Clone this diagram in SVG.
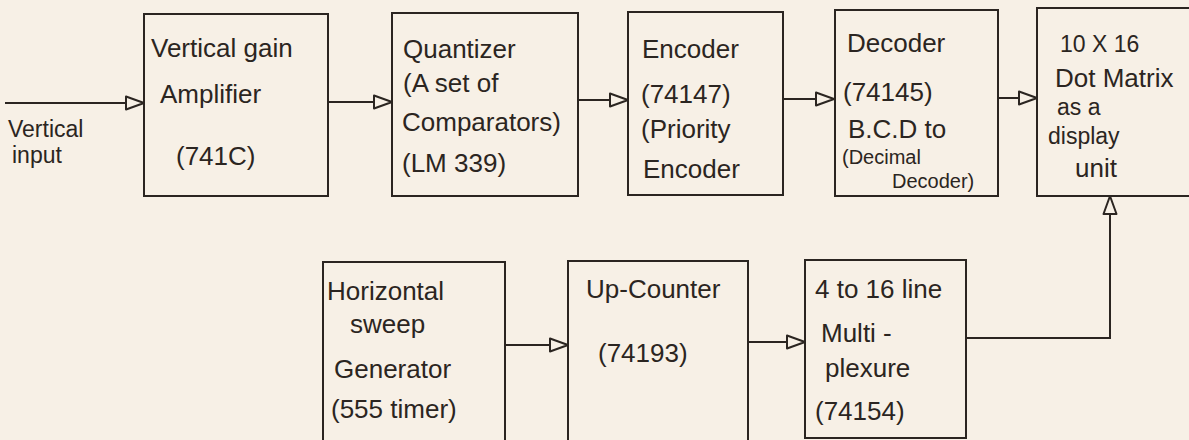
<svg xmlns="http://www.w3.org/2000/svg" width="1189" height="440" viewBox="0 0 1189 440">
<defs>
<marker id="tri" viewBox="0 0 20 16" refX="19" refY="8" markerWidth="20" markerHeight="16" markerUnits="userSpaceOnUse" orient="auto">
<path d="M1,1.5 L19,8 L1,14.5 Z" fill="#f7f0e6" stroke="#2b2521" stroke-width="2" stroke-linejoin="round"/>
</marker>
<style>
.box{fill:none;stroke:#2b2521;stroke-width:2}
.wire{fill:none;stroke:#2b2521;stroke-width:2;marker-end:url(#tri)}
text{font-family:"Liberation Sans",Arial,sans-serif;font-size:26px;fill:#2b2521}
.sm{font-size:20px}
.md{font-size:23px}
</style>
</defs>
<rect x="0" y="0" width="1189" height="440" fill="#f7f0e6"/>
<g id="connectors">
<line class="wire" x1="5" y1="103" x2="144" y2="103"/>
<line class="wire" x1="328" y1="102" x2="392" y2="102"/>
<line class="wire" x1="578" y1="100" x2="628" y2="100"/>
<line class="wire" x1="783" y1="99" x2="834" y2="99"/>
<line class="wire" x1="998" y1="98" x2="1037" y2="98"/>
<line class="wire" x1="505" y1="345" x2="568" y2="345"/>
<line class="wire" x1="748" y1="342" x2="805" y2="342"/>
<polyline class="wire" points="966,338 1110,338 1110,196"/>
</g>
<g id="input-label">
<text class="md" x="8" y="137">Vertical</text>
<text class="md" x="12" y="163">input</text>
</g>
<g id="amplifier">
<rect class="box" x="144" y="14" width="184" height="182"/>
<text x="151" y="57">Vertical gain</text>
<text x="160" y="103">Amplifier</text>
<text x="176" y="165">(741C)</text>
</g>
<g id="quantizer">
<rect class="box" x="392" y="13" width="186" height="183"/>
<text x="403" y="58">Quantizer</text>
<text x="403" y="92">(A set of</text>
<text x="402" y="131">Comparators)</text>
<text x="402" y="172">(LM 339)</text>
</g>
<g id="encoder">
<rect class="box" x="628" y="12" width="155" height="183"/>
<text x="642" y="58">Encoder</text>
<text x="641" y="103">(74147)</text>
<text x="641" y="138">(Priority</text>
<text x="643" y="178">Encoder</text>
</g>
<g id="decoder">
<rect class="box" x="835" y="10" width="163" height="186"/>
<text x="847" y="52">Decoder</text>
<text x="843" y="101">(74145)</text>
<text x="848" y="138">B.C.D to</text>
<text class="sm" x="842" y="164">(Decimal</text>
<text class="sm" x="892" y="188">Decoder)</text>
</g>
<g id="display">
<rect class="box" x="1037" y="8" width="165" height="188"/>
<text class="md" x="1060" y="52">10 X 16</text>
<text x="1055" y="87">Dot Matrix</text>
<text class="md" x="1057" y="115">as a</text>
<text class="md" x="1048" y="144">display</text>
<text x="1075" y="177">unit</text>
</g>
<g id="sweep-generator">
<rect class="box" x="323" y="262" width="182" height="190"/>
<text x="327" y="300">Horizontal</text>
<text x="350" y="333">sweep</text>
<text x="334" y="378">Generator</text>
<text x="331" y="418">(555 timer)</text>
</g>
<g id="up-counter">
<rect class="box" x="568" y="261" width="180" height="190"/>
<text x="586" y="298">Up-Counter</text>
<text x="598" y="362">(74193)</text>
</g>
<g id="multiplexer">
<rect class="box" x="805" y="260" width="161" height="178"/>
<text x="815" y="298">4 to 16 line</text>
<text x="821" y="342">Multi -</text>
<text x="825" y="377">plexure</text>
<text x="815" y="420">(74154)</text>
</g>
</svg>
